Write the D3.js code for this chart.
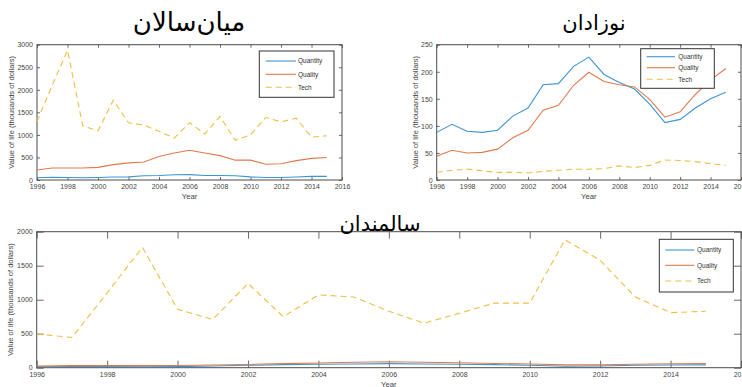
<!DOCTYPE html>
<html>
<head>
<meta charset="utf-8">
<script src="https://cdn.jsdelivr.net/npm/d3@7"></script>
<style>
  html, body { margin: 0; padding: 0; background: #fff; }
  svg { display: block; }
</style>
</head>
<body>
<svg id="chart" width="742" height="387"></svg>
<script>
// Years shared by all three panels
const years = [1996, 1997, 1998, 1999, 2000, 2001, 2002, 2003, 2004, 2005,
               2006, 2007, 2008, 2009, 2010, 2011, 2012, 2013, 2014, 2015];
const seriesNames = ["Quantity", "Quality", "Tech"];
const xTicks = [1996, 1998, 2000, 2002, 2004, 2006, 2008, 2010, 2012, 2014, 2016];

// Middle-aged (thousands of dollars)
const midQuantity = [50, 60, 55, 50, 55, 65, 70, 95, 100, 115, 120, 100, 100, 95, 70, 55, 55, 65, 80, 80];
const midQuality  = [220, 265, 265, 265, 280, 340, 380, 400, 520, 600, 660, 600, 540, 440, 440, 350, 360, 430, 480, 500];
const midTech     = [1300, 2100, 2880, 1200, 1090, 1770, 1270, 1220, 1080, 930, 1270, 1020, 1410, 880, 1000, 1390, 1290, 1370, 950, 980];
const midYTicks   = [0, 500, 1000, 1500, 2000, 2500, 3000];

// Newborns
const babyQuantity = [88, 103, 90, 88, 92, 118, 133, 176, 178, 210, 227, 195, 180, 168, 140, 106, 112, 133, 150, 162];
const babyQuality  = [44, 55, 50, 51, 57, 78, 92, 129, 138, 175, 199, 182, 176, 172, 149, 116, 126, 158, 185, 206];
const babyTech     = [14, 18, 20, 17, 14, 14, 13, 16, 18, 20, 20, 21, 26, 23, 27, 37, 36, 34, 30, 27];
const babyYTicks   = [0, 50, 100, 150, 200, 250];

// Elderly
const oldQuantity = [15, 18, 16, 15, 16, 25, 35, 45, 50, 55, 60, 55, 50, 45, 35, 22, 25, 35, 40, 42];
const oldQuality  = [25, 30, 30, 30, 32, 40, 48, 60, 70, 80, 88, 80, 72, 62, 55, 42, 42, 50, 58, 60];
const oldTech     = [495, 445, 1100, 1770, 860, 710, 1240, 750, 1070, 1040, 830, 655, 800, 950, 950, 1880, 1580, 1040, 810, 830];
const oldYTicks   = [0, 500, 1000, 1500, 2000];

const colors = { Quantity: "#3d95d2", Quality: "#e07a4e", Tech: "#f0be47" };
const dashes = { Quantity: null, Quality: null, Tech: "6,4" };

const svg = d3.select("#chart");
const tickFont = "Liberation Sans, Arial, sans-serif";

function drawPanel(p) {
  const g = svg.append("g");
  const x = d3.scaleLinear().domain([1996, 2016]).range([p.left, p.right]);
  const y = d3.scaleLinear().domain([0, p.yMax]).range([p.bottom, p.top]);

  const styleAxis = sel => {
    sel.select(".domain").remove();
    sel.selectAll("line").attr("stroke", "#444").attr("stroke-width", 0.8);
    sel.selectAll("text").attr("fill", "#444").style("font-family", tickFont).style("font-size", "7px");
  };

  // Bottom axis with labels, ticks pointing inward
  g.append("g").attr("transform", `translate(0,${p.bottom})`)
    .call(d3.axisBottom(x).tickValues(xTicks).tickFormat(d3.format("d"))
      .tickSizeInner(-p.tick).tickSizeOuter(0).tickPadding(4))
    .call(styleAxis);
  // Top axis, ticks only
  g.append("g").attr("transform", `translate(0,${p.top})`)
    .call(d3.axisTop(x).tickValues(xTicks).tickFormat("")
      .tickSizeInner(-p.tick).tickSizeOuter(0))
    .call(styleAxis);
  // Left axis with labels
  g.append("g").attr("transform", `translate(${p.left},0)`)
    .call(d3.axisLeft(y).tickValues(p.yTicks).tickFormat(d3.format("d"))
      .tickSizeInner(-p.tick).tickSizeOuter(0).tickPadding(4))
    .call(styleAxis);
  // Right axis, ticks only
  g.append("g").attr("transform", `translate(${p.right},0)`)
    .call(d3.axisRight(y).tickValues(p.yTicks).tickFormat("")
      .tickSizeInner(-p.tick).tickSizeOuter(0))
    .call(styleAxis);

  // Axes box
  g.append("rect")
    .attr("x", p.left).attr("y", p.top)
    .attr("width", p.right - p.left).attr("height", p.bottom - p.top)
    .attr("fill", "none").attr("stroke", "#4a4a4a").attr("stroke-width", 1);

  // Series lines
  const line = d3.line().x((d, i) => x(years[i])).y(d => y(d));
  p.series.forEach((vals, k) => {
    const name = seriesNames[k];
    g.append("path").datum(vals)
      .attr("d", line)
      .attr("fill", "none")
      .attr("stroke", colors[name])
      .attr("stroke-width", 1.1)
      .attr("stroke-dasharray", dashes[name]);
  });

  // Axis titles
  g.append("text")
    .attr("x", (p.left + p.right) / 2).attr("y", p.yearY)
    .attr("text-anchor", "middle")
    .attr("fill", "#444").style("font-family", tickFont).style("font-size", "7.7px")
    .text("Year");
  g.append("text")
    .attr("transform", `translate(${p.ylabX},${(p.top + p.bottom) / 2}) rotate(-90)`)
    .attr("text-anchor", "middle").attr("dy", "0.35em")
    .attr("fill", "#444").style("font-family", tickFont).style("font-size", "7.5px")
    .text("Value of life (thousands of dollars)");

  // Panel title
  g.append("text")
    .attr("x", p.titleX).attr("y", p.titleY)
    .attr("text-anchor", "middle")
    .attr("fill", "#000").style("font-family", "DejaVu Sans, sans-serif").style("font-size", p.titleSize + "px")
    .text(p.title);

  // Legend
  const L = p.legend;
  g.append("rect")
    .attr("x", L.x).attr("y", L.y).attr("width", L.w).attr("height", L.h)
    .attr("fill", "#fff").attr("stroke", "#333").attr("stroke-width", 1);
  seriesNames.forEach((name, k) => {
    const ly = L.rows[k];
    g.append("line")
      .attr("x1", L.lx1).attr("x2", L.lx2).attr("y1", ly).attr("y2", ly)
      .attr("stroke", colors[name]).attr("stroke-width", 1.1)
      .attr("stroke-dasharray", dashes[name]);
    g.append("text")
      .attr("x", L.tx).attr("y", ly).attr("dy", "0.35em")
      .attr("fill", "#333").style("font-family", tickFont).style("font-size", "6.5px")
      .text(name);
  });
}

drawPanel({
  left: 37, right: 342, top: 44.7, bottom: 180, tick: 3,
  yMax: 3000, yTicks: midYTicks,
  series: [midQuantity, midQuality, midTech],
  title: "میان\u200cسالان", titleX: 189, titleY: 31, titleSize: 26,
  yearY: 198.5, ylabX: 11.5,
  legend: { x: 259.3, y: 51, w: 74.7, h: 46.3, lx1: 265.7, lx2: 296, tx: 298,
            rows: [61, 74.3, 87.3] }
});

drawPanel({
  left: 436.7, right: 741, top: 44.7, bottom: 180, tick: 3,
  yMax: 250, yTicks: babyYTicks,
  series: [babyQuantity, babyQuality, babyTech],
  title: "نوزادان", titleX: 594, titleY: 30, titleSize: 21,
  yearY: 198.5, ylabX: 415,
  legend: { x: 640.7, y: 48.7, w: 73.6, h: 39.6, lx1: 646.7, lx2: 675, tx: 678.3,
            rows: [56.7, 67.7, 79.3] }
});

drawPanel({
  left: 36.7, right: 741, top: 231.7, bottom: 367.7, tick: 7,
  yMax: 2000, yTicks: oldYTicks,
  series: [oldQuantity, oldQuality, oldTech],
  title: "سالمندان", titleX: 380, titleY: 231, titleSize: 21,
  yearY: 386.5, ylabX: 10.5,
  legend: { x: 659.3, y: 239.3, w: 74, h: 52.7, lx1: 665.3, lx2: 694.3, tx: 697,
            rows: [250, 265.3, 281] }
});
</script>
</body>
</html>
